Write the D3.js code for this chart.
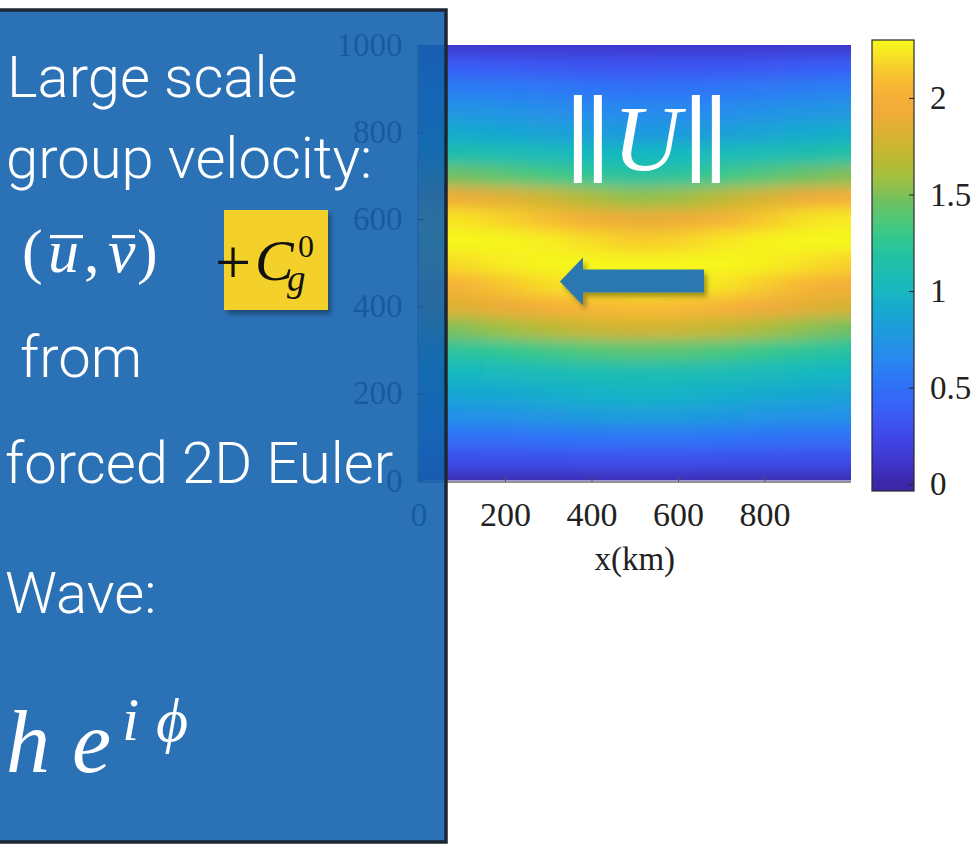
<!DOCTYPE html>
<html><head><meta charset="utf-8">
<script src="https://cdn.jsdelivr.net/npm/d3@7"></script>
<style>
html,body{margin:0;padding:0;background:#fff;}
svg{display:block;}
</style></head><body>
<svg id="chart" width="975" height="845"></svg>
<script>
// ---------------- data ----------------
const xKm = [0,100,200,300,400,500,600,700,800,900,1000];
const yKm = [0,50,100,150,200,250,300,350,400,450,500,550,600,650,700,750,800,850,900,950,1000];
// ||U||, one list per x column, bottom (y=0) to top (y=1000)
const speedX0    = [0.05,0.28,0.50,0.72,0.88,1.00,1.20,1.48,1.80,2.00,2.18,2.30,2.24,1.98,1.50,1.16,0.92,0.76,0.60,0.38,0.12];
const speedX100  = [0.05,0.28,0.50,0.72,0.88,1.01,1.22,1.51,1.84,2.03,2.20,2.30,2.22,1.93,1.46,1.14,0.91,0.75,0.59,0.37,0.12];
const speedX200  = [0.05,0.29,0.51,0.74,0.90,1.03,1.26,1.58,1.92,2.12,2.26,2.29,2.17,1.85,1.40,1.10,0.88,0.73,0.58,0.36,0.12];
const speedX300  = [0.05,0.29,0.53,0.77,0.93,1.06,1.32,1.68,2.00,2.20,2.29,2.26,2.08,1.75,1.33,1.06,0.85,0.70,0.56,0.35,0.12];
const speedX400  = [0.05,0.30,0.54,0.80,0.96,1.09,1.37,1.75,2.06,2.26,2.29,2.20,1.96,1.62,1.25,1.02,0.81,0.68,0.54,0.33,0.12];
const speedX500  = [0.05,0.30,0.55,0.82,0.97,1.10,1.40,1.78,2.08,2.27,2.29,2.15,1.90,1.55,1.20,1.00,0.78,0.66,0.52,0.32,0.12];
const speedX600  = [0.05,0.30,0.55,0.81,0.97,1.09,1.39,1.77,2.07,2.27,2.29,2.17,1.92,1.57,1.22,1.01,0.79,0.67,0.53,0.33,0.12];
const speedX700  = [0.05,0.29,0.54,0.78,0.94,1.07,1.35,1.71,2.03,2.22,2.30,2.23,2.02,1.68,1.30,1.05,0.83,0.69,0.55,0.34,0.12];
const speedX800  = [0.05,0.29,0.52,0.75,0.91,1.04,1.29,1.62,1.95,2.14,2.27,2.28,2.13,1.80,1.38,1.09,0.87,0.72,0.57,0.35,0.12];
const speedX900  = [0.05,0.28,0.50,0.73,0.89,1.01,1.23,1.53,1.86,2.04,2.21,2.30,2.22,1.93,1.46,1.14,0.91,0.75,0.59,0.37,0.12];
const speedX1000 = [0.05,0.28,0.50,0.72,0.87,0.99,1.19,1.46,1.78,1.98,2.16,2.30,2.25,2.00,1.52,1.18,0.93,0.77,0.61,0.38,0.12];
const speedColumns = [speedX0,speedX100,speedX200,speedX300,speedX400,speedX500,speedX600,speedX700,speedX800,speedX900,speedX1000];

const xTicks = [0,200,400,600,800];
const yTicks = [0,200,400,600,800,1000];
const cbTicks = [0,0.5,1,1.5,2];
const cbLimits = [-0.035, 2.3];
const xLabel = "x(km)";

// colormap (parula-like, as it appears in the picture)
const cmapValues = [0,0.13,0.25,0.39,0.51,0.65,0.77,0.90,1.00,1.16,1.27,1.37,1.47,1.58,1.70,1.82,1.94,2.05,2.15,2.22,2.30];
const cmapColors = ["#3a26a6","#4038d0","#4048e8","#3860f8","#3070f8","#2888f0","#2098e0","#18a8d0","#18b8c0","#20c0a8","#30c890","#50c878","#70c060","#a0c040","#c0b830","#dcb232","#f2aa3a","#f8b436","#f8cc2c","#f8e424","#f6f81c"];

// annotations (km coordinates)
const arrowAnno = {from: 660, to: 327, y: 457};
const normAnno = {x: 528, y: 713};

// ---------------- drawing ----------------
const svg = d3.select("#chart");
const defs = svg.append("defs");

const x = d3.scaleLinear().domain([0,1000]).range([418.5, 851]);
const y = d3.scaleLinear().domain([0,1000]).range([480.5, 45]);
const color = d3.scaleLinear().domain(cmapValues).range(cmapColors).interpolate(d3.interpolateRgb).clamp(true);
const cbY = d3.scaleLinear().domain(cbLimits).range([491, 40]);

// clip + blur
defs.append("clipPath").attr("id","plotClip").append("rect")
  .attr("x", x(0)).attr("y", y(1000)).attr("width", x(1000)-x(0)).attr("height", y(0)-y(1000));
const blur = defs.append("filter").attr("id","smooth").attr("filterUnits","userSpaceOnUse")
  .attr("x",200).attr("y",-200).attr("width",900).attr("height",900);
blur.append("feGaussianBlur").attr("stdDeviation","17 7");

const cells = [];
speedColumns.forEach((col, i) => {
  col.forEach((v, j) => {
    const x0 = i === 0 ? -200 : (xKm[i-1] + xKm[i]) / 2;
    const x1 = i === xKm.length-1 ? 1200 : (xKm[i] + xKm[i+1]) / 2;
    const y0 = j === 0 ? -200 : (yKm[j-1] + yKm[j]) / 2;
    const y1 = j === yKm.length-1 ? 1200 : (yKm[j] + yKm[j+1]) / 2;
    cells.push({x0, x1, y0, y1, v});
  });
});

const heat = svg.append("g").attr("clip-path","url(#plotClip)")
  .append("g").attr("filter","url(#smooth)");
heat.selectAll("rect").data(cells).join("rect")
  .attr("x", d => x(d.x0)).attr("y", d => y(d.y1))
  .attr("width", d => x(d.x1) - x(d.x0) + 0.5)
  .attr("height", d => y(d.y0) - y(d.y1) + 0.5)
  .attr("fill", d => color(d.v));

// axes
const serif = "'Liberation Serif','Times New Roman',serif";
const gx = svg.append("g").attr("transform", `translate(0,${y(0)+1.5})`)
  .call(d3.axisBottom(x).tickValues(xTicks).tickFormat(d3.format("d")).tickSizeInner(-6).tickSizeOuter(0).tickPadding(20));
gx.select(".domain").attr("stroke","#6e6e6e").attr("stroke-width",1.6)
  .attr("d", `M${x(0)},0H${x(1000)}`);
gx.selectAll(".tick line").attr("stroke","#555");
gx.selectAll("text").attr("font-family", serif).attr("font-size", 34).attr("fill","#222");

const gy = svg.append("g").attr("transform", `translate(${x(0)-1},0)`)
  .call(d3.axisLeft(y).tickValues(yTicks).tickFormat(d3.format("d")).tickSizeInner(-6).tickSizeOuter(0).tickPadding(15));
gy.select(".domain").attr("stroke","#6e6e6e").attr("stroke-width",1.4);
gy.selectAll("text").attr("font-family", serif).attr("font-size", 33).attr("fill","#222");

svg.append("text").attr("x", (x(0)+x(1000))/2).attr("y", 570)
  .attr("text-anchor","middle").attr("font-family", serif).attr("font-size", 33).attr("fill","#222")
  .text(xLabel);

// colorbar
const grad = defs.append("linearGradient").attr("id","cbGrad")
  .attr("x1",0).attr("y1",1).attr("x2",0).attr("y2",0);
d3.range(0, 1.0001, 0.02).forEach(t => {
  const v = cbLimits[0] + t * (cbLimits[1]-cbLimits[0]);
  grad.append("stop").attr("offset", t).attr("stop-color", color(v));
});
svg.append("rect").attr("x", 872).attr("y", cbY(cbLimits[1])).attr("width", 42)
  .attr("height", cbY(cbLimits[0]) - cbY(cbLimits[1]))
  .attr("fill","url(#cbGrad)").attr("stroke","#2a2a2a").attr("stroke-width",1.2);
const gc = svg.append("g").attr("transform","translate(914,0)")
  .call(d3.axisRight(cbY).tickValues(cbTicks).tickFormat(d3.format("")).tickSizeInner(-5).tickSizeOuter(0).tickPadding(16));
gc.select(".domain").remove();
gc.selectAll(".tick line").attr("stroke","#222");
gc.selectAll("text").attr("font-family", serif).attr("font-size", 33).attr("fill","#222");

// annotations on the heatmap: ||U|| and arrow
const shadow = defs.append("filter").attr("id","shadow").attr("x","-20%").attr("y","-30%").attr("width","150%").attr("height","170%");
shadow.append("feDropShadow").attr("dx",3).attr("dy",4).attr("stdDeviation",2.5).attr("flood-color","#000").attr("flood-opacity",0.35);

const norm = svg.append("g").attr("transform", `translate(${x(normAnno.x)},${y(normAnno.y)})`);
[-73,-53,45,65].forEach(dx => {
  norm.append("rect").attr("x", dx).attr("y", -75).attr("width", 8).attr("height", 88).attr("fill","#fff");
});
norm.append("text").attr("x", 0).attr("y", 0).attr("text-anchor","middle")
  .attr("font-family", serif).attr("font-style","italic").attr("font-size", 94).attr("fill","#fff").text("U");

const ax0 = x(arrowAnno.from), ax1 = x(arrowAnno.to), ay = y(arrowAnno.y);
svg.append("path").attr("filter","url(#shadow)").attr("fill","#2c77b1")
  .attr("d", `M${ax1},${ay} L${ax1+23},${ay-24} L${ax1+23},${ay-12} L${ax0},${ay-12} L${ax0},${ay+11} L${ax1+23},${ay+11} L${ax1+23},${ay+24} Z`);

// ---------------- slide text box ----------------
svg.append("rect").attr("x",-6).attr("y",10).attr("width",452).attr("height",832)
  .attr("fill","rgb(20,98,174)").attr("fill-opacity",0.9)
  .attr("stroke","#1d2733").attr("stroke-width",3.5);

const sans = "Roboto,'Open Sans','Noto Sans',sans-serif";
const lines = [
  {t:"Large scale", x:7, y:97},
  {t:"group velocity:", x:6, y:178},
  {t:"from", x:20, y:377},
  {t:"forced 2D Euler", x:5, y:483},
  {t:"Wave:", x:5, y:613}
];
svg.selectAll("text.slide").data(lines).join("text").attr("class","slide")
  .attr("x", d => d.x).attr("y", d => d.y).attr("font-family", sans).attr("font-weight",300)
  .attr("font-size", 58).attr("fill","#fff").text(d => d.t);

// (ū, v̄)
const mathF = serif;
const m = svg.append("g").attr("fill","#fff").attr("font-family", mathF);
const mt = m.append("text").attr("y",272).attr("font-size",62);
mt.append("tspan").attr("x",22).text("(");
mt.append("tspan").attr("x",48).attr("font-style","italic").text("u");
mt.append("tspan").attr("x",84).text(",");
mt.append("tspan").attr("x",108).attr("font-style","italic").text("v");
mt.append("tspan").attr("x",137).text(")");
m.append("rect").attr("x",50).attr("y",235).attr("width",33).attr("height",3.2);
m.append("rect").attr("x",112).attr("y",235).attr("width",23).attr("height",3.2);

// yellow box +C_g^0
svg.append("rect").attr("x",224).attr("y",210).attr("width",104).attr("height",100)
  .attr("fill","#f4d12a").attr("filter","url(#shadow)");
const ct = svg.append("text").attr("fill","#111").attr("font-family", mathF);
ct.append("tspan").attr("x",215).attr("y",284).attr("font-size",64).text("+");
ct.append("tspan").attr("x",255).attr("y",280).attr("font-size",58).attr("font-style","italic").text("C");
ct.append("tspan").attr("x",298).attr("y",257).attr("font-size",32).text("0");
ct.append("tspan").attr("x",287).attr("y",291).attr("font-size",37).attr("font-style","italic").text("g");

// h e^{i φ}
const wt = svg.append("text").attr("fill","#fff").attr("font-family", mathF).attr("font-style","italic");
wt.append("tspan").attr("x",6).attr("y",772).attr("font-size",88).text("h");
wt.append("tspan").attr("x",72).attr("y",772).attr("font-size",88).text("e");
wt.append("tspan").attr("x",122).attr("y",740).attr("font-size",62).text("i");
wt.append("tspan").attr("x",156).attr("y",741).attr("font-size",62).text("ϕ");
</script>
</body></html>
